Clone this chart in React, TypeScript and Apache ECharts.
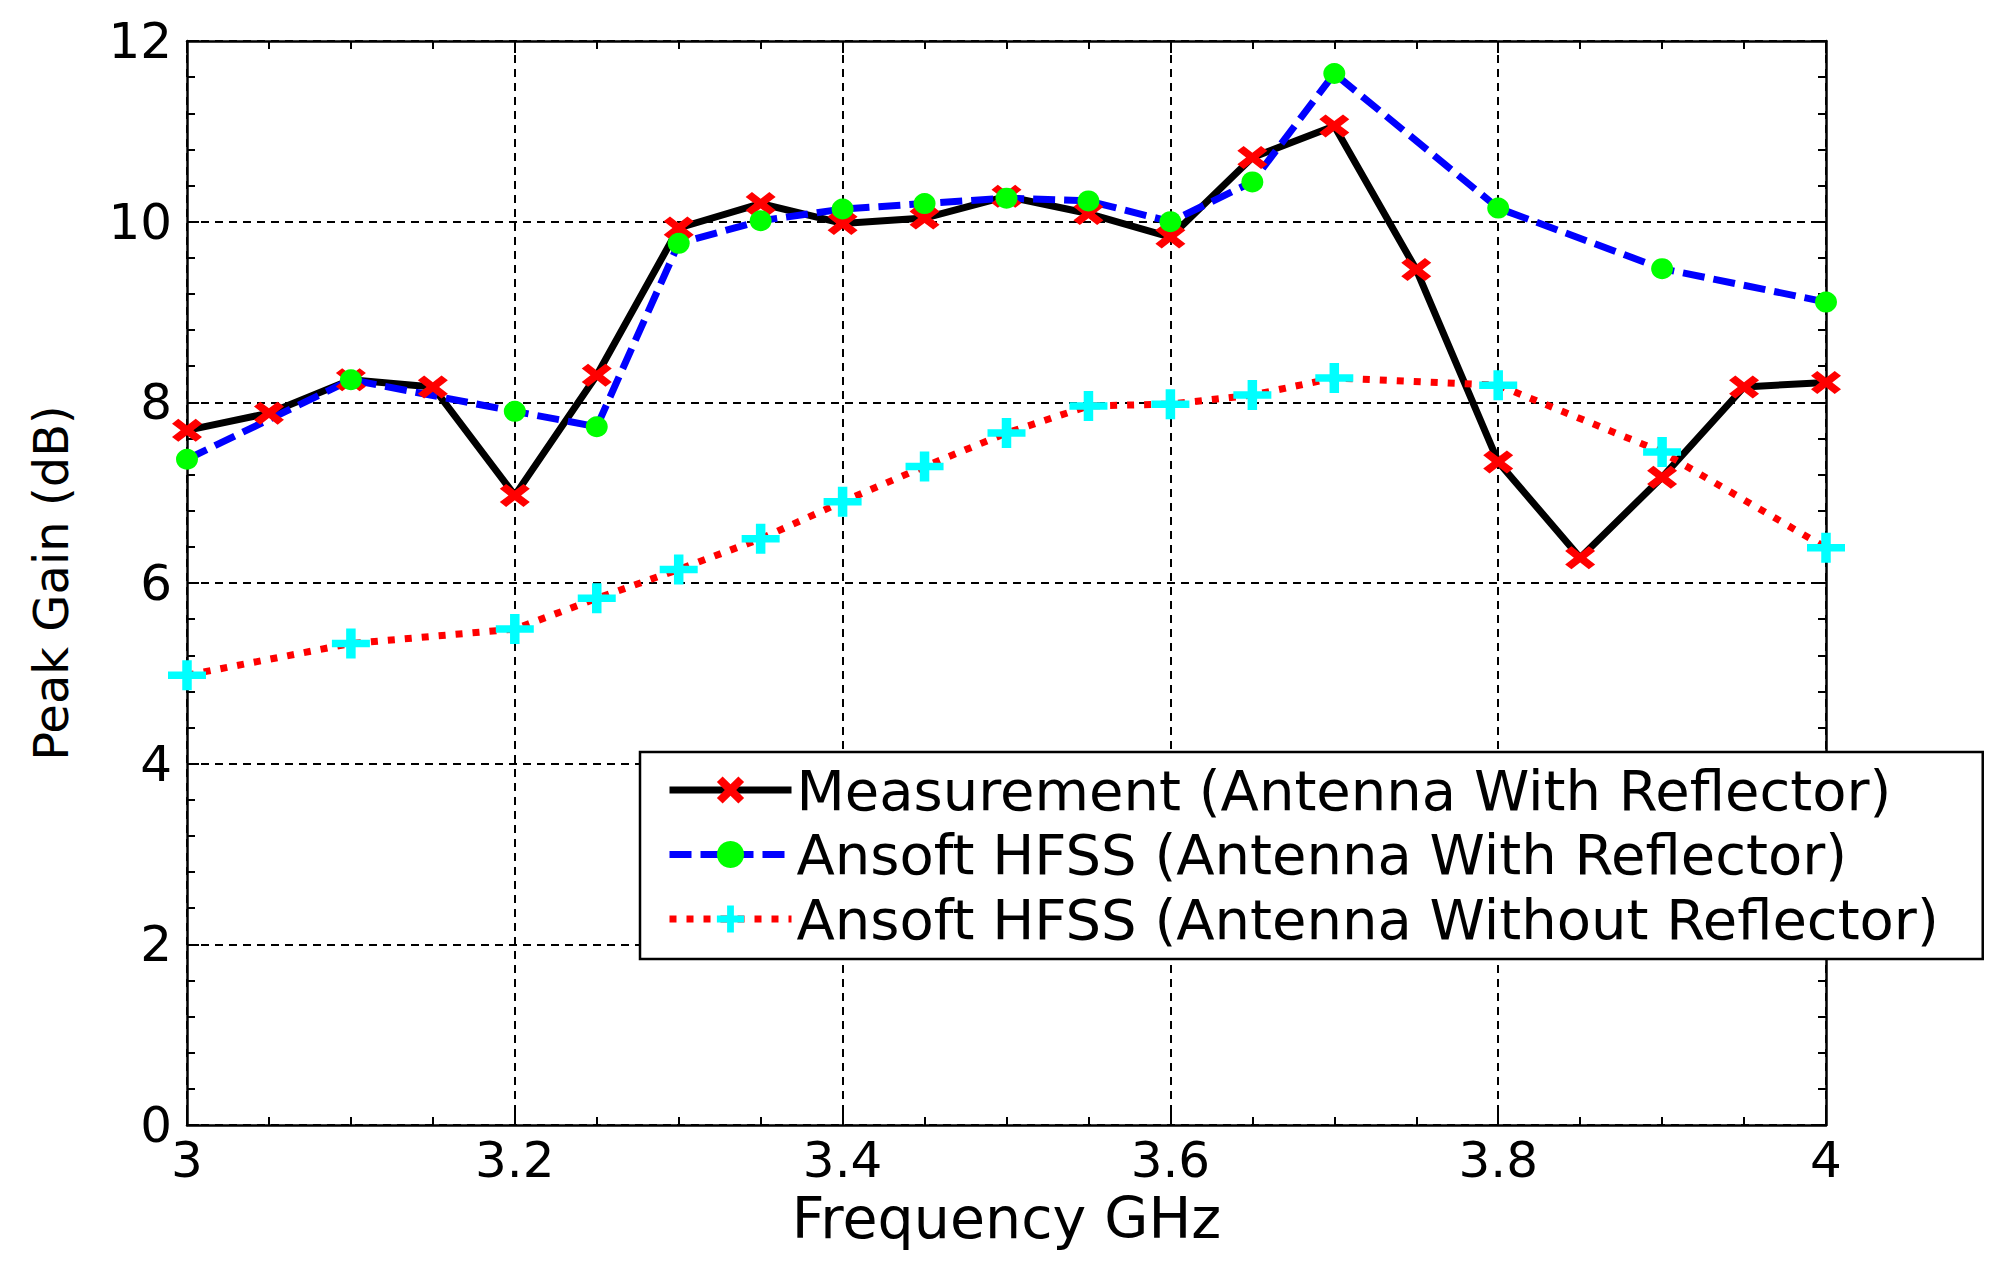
import React, { useEffect, useRef } from "react";
import * as echarts from "echarts";

const FONT = "DejaVu Sans";

const seriesNames = [
  "Measurement (Antenna With Reflector)",
  "Ansoft HFSS (Antenna With Reflector)",
  "Ansoft HFSS (Antenna Without Reflector)",
];

const freqMeas = [3.0, 3.05, 3.1, 3.15, 3.2, 3.25, 3.3, 3.35, 3.4, 3.45, 3.5, 3.55, 3.6, 3.65, 3.7, 3.75, 3.8, 3.85, 3.9, 3.95, 4.0];
const gainMeas = [7.69, 7.88, 8.25, 8.17, 6.97, 8.3, 9.93, 10.2, 9.98, 10.04, 10.28, 10.09, 9.83, 10.71, 11.06, 9.47, 7.34, 6.28, 7.17, 8.17, 8.22];

const freqSim = [3.0, 3.1, 3.2, 3.25, 3.3, 3.35, 3.4, 3.45, 3.5, 3.55, 3.6, 3.65, 3.7, 3.8, 3.9, 4.0];
const gainSimRefl = [7.37, 8.25, 7.9, 7.73, 9.76, 10.01, 10.14, 10.2, 10.26, 10.23, 10.0, 10.44, 11.64, 10.15, 9.48, 9.11];
const gainSimNoRefl = [4.98, 5.33, 5.49, 5.83, 6.15, 6.49, 6.9, 7.29, 7.66, 7.96, 7.98, 8.08, 8.27, 8.19, 7.45, 6.39];

const xMin = 3;
const xMax = 4;
const xStep = 0.2;
const yMin = 0;
const yMax = 12;
const yStep = 2;

const X_SYMBOL = "path://M0,2.1L2.1,0L5,2.9L7.9,0L10,2.1L7.1,5L10,7.9L7.9,10L5,7.1L2.1,10L0,7.9L2.9,5Z";
const PLUS_SYMBOL = "path://M3.75,0H6.25V3.75H10V6.25H6.25V10H3.75V6.25H0V3.75H3.75Z";

const pairs = (xs: number[], ys: number[]) => xs.map((x, i) => [x, ys[i]]);

export default function App() {
  const ref = useRef<HTMLDivElement | null>(null);

  useEffect(() => {
    if (!ref.current) return;
    const chart = echarts.init(ref.current, null, { renderer: "svg" });

    const axisLine = { show: true, onZero: false, lineStyle: { color: "#000", width: 2.5 } };
    const tick = { show: true, inside: true, length: 12, lineStyle: { color: "#000", width: 2 } };

    const option: any = {
      animation: false,
      backgroundColor: "#ffffff",
      textStyle: { fontFamily: FONT },
      grid: { left: 187, right: 172, top: 41, bottom: 139, containLabel: false },
      xAxis: [
        {
          type: "value",
          min: xMin,
          max: xMax,
          interval: xStep,
          position: "bottom",
          name: "Frequency GHz",
          nameLocation: "middle",
          nameGap: 62,
          nameTextStyle: { fontSize: 57, color: "#000", fontFamily: FONT },
          axisLine,
          axisTick: tick,
          minorTick: { show: true, splitNumber: 4, length: 8, lineStyle: { color: "#000", width: 2 } },
          axisLabel: { fontSize: 50, color: "#000", margin: 10, fontFamily: FONT },
          splitLine: { show: true, lineStyle: { color: "#000", width: 2, type: [8, 6] } },
        },
        {
          type: "value",
          min: xMin,
          max: xMax,
          interval: xStep,
          position: "top",
          axisLine,
          axisTick: tick,
          minorTick: { show: true, splitNumber: 4, length: 8, lineStyle: { color: "#000", width: 2 } },
          axisLabel: { show: false },
          splitLine: { show: false },
        },
      ],
      yAxis: [
        {
          type: "value",
          min: yMin,
          max: yMax,
          interval: yStep,
          position: "left",
          name: "Peak Gain (dB)",
          nameLocation: "middle",
          nameGap: 112,
          nameTextStyle: { fontSize: 48, color: "#000", fontFamily: FONT },
          axisLine,
          axisTick: tick,
          minorTick: { show: true, splitNumber: 5, length: 8, lineStyle: { color: "#000", width: 2 } },
          axisLabel: { fontSize: 50, color: "#000", margin: 15, fontFamily: FONT },
          splitLine: { show: true, lineStyle: { color: "#000", width: 2, type: [8, 6] } },
        },
        {
          type: "value",
          min: yMin,
          max: yMax,
          interval: yStep,
          position: "right",
          axisLine,
          axisTick: tick,
          minorTick: { show: true, splitNumber: 5, length: 8, lineStyle: { color: "#000", width: 2 } },
          axisLabel: { show: false },
          splitLine: { show: false },
        },
      ],
      legend: {
        orient: "vertical",
        left: 640,
        top: 752,
        padding: [10, 44, 12, 26],
        itemWidth: 122,
        itemHeight: 34,
        itemGap: 8.5,
        backgroundColor: "#ffffff",
        borderColor: "#000",
        borderWidth: 2.5,
        borderRadius: 0,
        selectedMode: false,
        lineStyle: { width: 7 },
        textStyle: { fontSize: 56, lineHeight: 56, color: "#000", fontFamily: FONT },
        data: seriesNames,
      },
      series: [
        {
          name: seriesNames[0],
          type: "line",
          xAxisIndex: 0,
          yAxisIndex: 0,
          data: pairs(freqMeas, gainMeas),
          clip: false,
          symbol: X_SYMBOL,
          symbolSize: [30, 23],
          lineStyle: { color: "#000000", width: 7, type: "solid" },
          itemStyle: { color: "#ff0000", borderWidth: 0 },
        },
        {
          name: seriesNames[1],
          type: "line",
          xAxisIndex: 0,
          yAxisIndex: 0,
          data: pairs(freqSim, gainSimRefl),
          clip: false,
          symbol: "circle",
          symbolSize: [22, 21],
          lineStyle: { color: "#0000ff", width: 7, type: [22, 9] },
          itemStyle: { color: "#00ff00", borderWidth: 0 },
        },
        {
          name: seriesNames[2],
          type: "line",
          xAxisIndex: 0,
          yAxisIndex: 0,
          data: pairs(freqSim, gainSimNoRefl),
          clip: false,
          symbol: PLUS_SYMBOL,
          symbolSize: [38, 30],
          lineStyle: { color: "#ff0000", width: 7, type: [7, 10] },
          itemStyle: { color: "#00ffff", borderWidth: 0 },
        },
      ],
    };

    chart.setOption(option);
    return () => {
      chart.dispose();
    };
  }, []);

  return (
    <div
      ref={ref}
      style={{ position: "absolute", left: 0, top: 0, width: 1998, height: 1264, background: "#fff" }}
    />
  );
}
